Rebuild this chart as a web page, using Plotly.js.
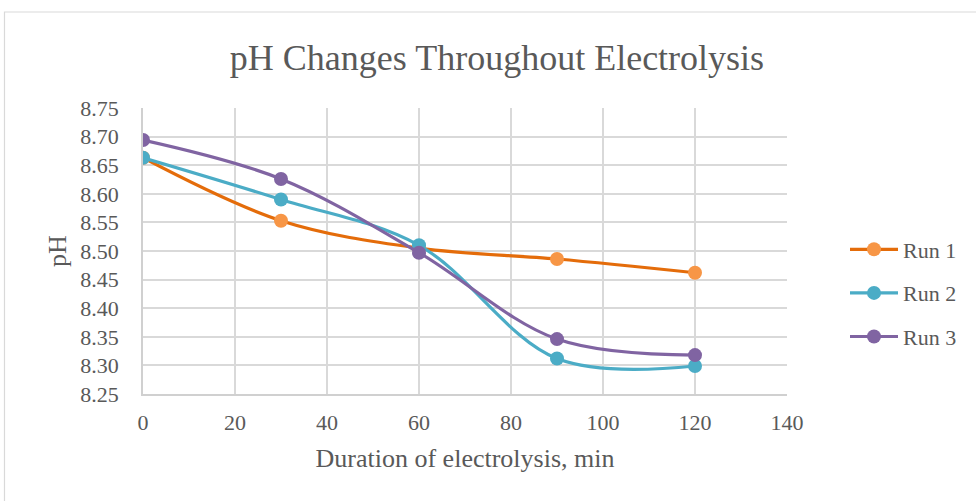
<!DOCTYPE html>
<html>
<head>
<meta charset="utf-8">
<script src="https://cdn.plot.ly/plotly-3.0.1.min.js"></script>
<style>html,body{margin:0;padding:0;background:#fff;}#chart{width:976px;height:501px;}</style>
</head>
<body>
<div id="chart"></div>
<script>
const durations = [0, 30, 60, 90, 120];
const run1 = [8.663, 8.553, 8.505, 8.486, 8.462];
const run2 = [8.663, 8.590, 8.510, 8.312, 8.299];
const run3 = [8.694, 8.626, 8.497, 8.346, 8.318];
const seriesNames = ['Run 1', 'Run 2', 'Run 3'];
const xTicks = [0, 20, 40, 60, 80, 100, 120, 140];
const yTicks = [8.25, 8.30, 8.35, 8.40, 8.45, 8.50, 8.55, 8.60, 8.65, 8.70, 8.75];

const serif = '"Liberation Serif", "Times New Roman", serif';
function mk(y, name, lineColor, markerColor, g) {
  return {
    x: durations, y: y, name: name, type: 'scatter', mode: 'lines+markers',
    legendgroup: g,
    line: {color: lineColor, width: 3.2, shape: 'spline', smoothing: 1},
    marker: {color: markerColor, size: 14}
  };
}
const data = [
  mk(run1, seriesNames[0], '#E46C0A', '#F79646', 'a'),
  mk(run2, seriesNames[1], '#4BACC6', '#4BACC6', 'b'),
  mk(run3, seriesNames[2], '#8064A2', '#8064A2', 'c')
];
const W = 976, H = 501, L = 143, R = 189, T = 108, B = 107;
const pw = W - L - R, ph = H - T - B;
const layout = {
  width: W, height: H,
  margin: {l: L, r: R, t: T, b: B},
  paper_bgcolor: '#fff', plot_bgcolor: '#fff',
  font: {family: serif, color: '#595959', size: 22},
  title: {text: 'pH Changes Throughout Electrolysis', font: {family: serif, size: 36, color: '#595959'},
          x: 497 / W, xanchor: 'center', y: 1 - 57 / H, yanchor: 'middle', xref: 'container', yref: 'container'},
  xaxis: {
    range: [0, 140], tickvals: xTicks, ticktext: xTicks.map(String),
    showgrid: true, gridcolor: '#D9D9D9', gridwidth: 1.5,
    showline: true, linecolor: '#D0D0D0', linewidth: 1.5, zeroline: false,
    ticks: '', ticklabelstandoff: 8,
    tickfont: {size: 22, color: '#595959'},
    title: {text: 'Duration of electrolysis, min', font: {size: 26, color: '#595959'}, standoff: 15}
  },
  yaxis: {
    range: [8.25, 8.75], tickvals: yTicks, ticktext: yTicks.map(v => v.toFixed(2)),
    showgrid: true, gridcolor: '#D9D9D9', gridwidth: 1.5,
    showline: true, linecolor: '#D0D0D0', linewidth: 1.5, zeroline: false,
    ticks: '', ticklabelstandoff: 18,
    tickfont: {size: 22, color: '#595959'},
    title: {text: 'pH', font: {size: 26, color: '#595959'}, standoff: 6}
  },
  showlegend: true,
  legend: {
    x: 1 + (845 - L - pw) / pw, xanchor: 'left', y: 1 - (293 - T) / ph, yanchor: 'middle',
    itemwidth: 48,
    font: {size: 22, color: '#595959'}, tracegroupgap: 12, bgcolor: 'rgba(0,0,0,0)'
  },
  shapes: [{
    type: 'rect', xref: 'paper', yref: 'paper', layer: 'below',
    x0: (4.5 - L) / pw, x1: (W + 20 - L) / pw,
    y0: 1 - (H + 20 - T) / ph, y1: 1 - (12 - T) / ph,
    line: {color: '#D9D9D9', width: 1.2}, fillcolor: 'rgba(0,0,0,0)'
  }]
};
Plotly.newPlot('chart', data, layout, {displayModeBar: false, responsive: false});
</script>
</body>
</html>
